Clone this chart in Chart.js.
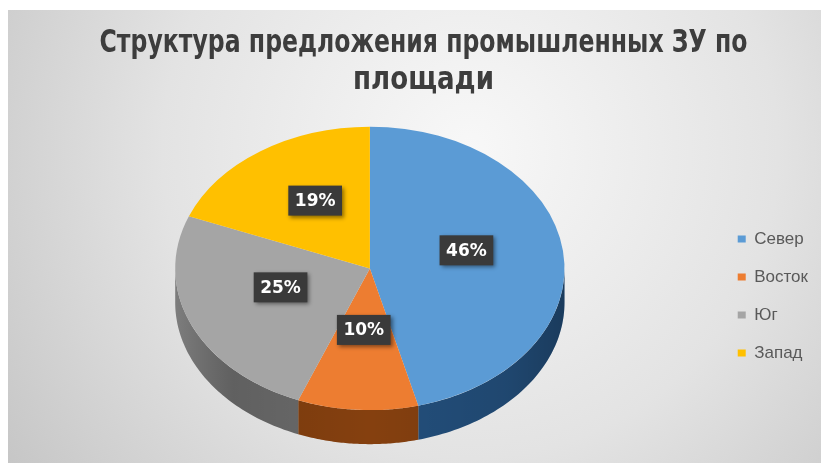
<!DOCTYPE html>
<html>
<head>
<meta charset="utf-8">
<script src="https://cdn.jsdelivr.net/npm/chart.js@4.4.0/dist/chart.umd.min.js"></script>
<style>
  html, body { margin: 0; padding: 0; background: #ffffff; }
  #wrap { width: 821px; height: 463px; }
</style>
</head>
<body>
<div id="wrap"><canvas id="chart" width="821" height="463"></canvas></div>
<script>
// Chart data
const titleLines = ['Структура предложения промышленных ЗУ по', 'площади'];
const regions = ['Север', 'Восток', 'Юг', 'Запад'];
const shares = [46, 10, 25, 19];

// Slice colours: top face and darker side wall
const topColors = ['#5b9bd5', '#ed7d31', '#a5a5a5', '#ffc000'];
const sideColors = ['#234f7c', '#85400f', '#6b6b6b', '#b58a00'];

// 3D projection of the library's circular pie into a tilted disc
const PIE3D = {
  stretch: 1.115,     // horizontal radius relative to the library radius
  tilt: 0.728,        // vertical / horizontal radius of the top face
  depth: 0.195,       // wall height relative to the library radius
  labelRadius: 0.5,
  labelLift: 0.065
};

// Condensed look of the heading
const TITLE_SQUEEZE = 0.815;
const TITLE_SHIFT = 3;

function pieGeometry(chart) {
  const arc = chart.getDatasetMeta(0).data[0];
  const R = arc.outerRadius;
  const rx = R * PIE3D.stretch;
  const ry = rx * PIE3D.tilt;
  const d = R * PIE3D.depth;
  return { ax: arc.x, ay: arc.y, R, rx, ry, d, cx: arc.x, cy: arc.y - d / 2 };
}

const backdrop = {
  id: 'backdrop',
  beforeDraw(chart) {
    const { ctx, width, height } = chart;
    // narrow the title block horizontally
    const tb = chart.titleBlock;
    if (tb && !tb._squeezed) {
      const draw = tb.draw;
      tb.draw = function (area) {
        const c = this.ctx;
        const mid = (this.left + this.right) / 2;
        c.save();
        c.translate(mid + TITLE_SHIFT, 0);
        c.scale(TITLE_SQUEEZE, 1);
        c.translate(-mid, 0);
        draw.call(this, area);
        c.restore();
      };
      tb._squeezed = true;
    }
    ctx.save();
    ctx.fillStyle = '#ffffff';
    ctx.fillRect(0, 0, width, height);
    const g = ctx.createRadialGradient(470, 150, 0, 470, 150, 560);
    g.addColorStop(0, '#f8f8f8');
    g.addColorStop(0.55, '#e3e3e3');
    g.addColorStop(1, '#c6c6c6');
    ctx.fillStyle = g;
    ctx.fillRect(8, 10, width - 8, height - 10);
    ctx.restore();
  }
};

const pie3d = {
  id: 'pie3d',
  beforeDatasetsDraw(chart) {
    const ctx = chart.ctx;
    const g = pieGeometry(chart);
    const meta = chart.getDatasetMeta(0);
    const n = 60;
    const edge = (a, off) => [g.cx + g.rx * Math.cos(a), g.cy + g.ry * Math.sin(a) + off];

    ctx.save();
    // side wall, only the front half of the disc is visible
    meta.data.forEach((el, i) => {
      const a0 = Math.max(el.startAngle, 0);
      const a1 = Math.min(el.endAngle, Math.PI);
      if (a1 <= a0) return;
      ctx.beginPath();
      for (let k = 0; k <= n; k++) {
        const p = edge(a0 + (a1 - a0) * k / n, 0);
        k ? ctx.lineTo(p[0], p[1]) : ctx.moveTo(p[0], p[1]);
      }
      for (let k = n; k >= 0; k--) {
        const p = edge(a0 + (a1 - a0) * k / n, g.d);
        ctx.lineTo(p[0], p[1]);
      }
      ctx.closePath();
      ctx.fillStyle = sideColors[i];
      ctx.fill();
    });
    // shading of the wall toward the left and right rims
    ctx.beginPath();
    for (let k = 0; k <= n; k++) {
      const p = edge(Math.PI * k / n, 0);
      k ? ctx.lineTo(p[0], p[1]) : ctx.moveTo(p[0], p[1]);
    }
    for (let k = n; k >= 0; k--) {
      const p = edge(Math.PI * k / n, g.d);
      ctx.lineTo(p[0], p[1]);
    }
    ctx.closePath();
    const sh = ctx.createLinearGradient(g.cx - g.rx, 0, g.cx + g.rx, 0);
    sh.addColorStop(0, 'rgba(255,255,255,0.12)');
    sh.addColorStop(0.15, 'rgba(0,0,0,0.10)');
    sh.addColorStop(0.5, 'rgba(0,0,0,0)');
    sh.addColorStop(0.85, 'rgba(0,0,0,0.10)');
    sh.addColorStop(1, 'rgba(0,0,0,0.25)');
    ctx.fillStyle = sh;
    ctx.fill();
    ctx.restore();

    // tilt the top face
    ctx.save();
    ctx.translate(g.cx, g.cy);
    ctx.scale(g.rx / g.R, g.ry / g.R);
    ctx.translate(-g.ax, -g.ay);
  },
  afterDatasetsDraw(chart) {
    const ctx = chart.ctx;
    ctx.restore();
    const g = pieGeometry(chart);
    const meta = chart.getDatasetMeta(0);
    const total = shares.reduce((s, v) => s + v, 0);
    ctx.save();
    ctx.font = 'bold 17px "DejaVu Sans", sans-serif';
    ctx.textAlign = 'center';
    ctx.textBaseline = 'middle';
    meta.data.forEach((el, i) => {
      const mid = (el.startAngle + el.endAngle) / 2;
      const x = g.cx + g.rx * PIE3D.labelRadius * Math.cos(mid);
      const y = g.cy + g.ry * PIE3D.labelRadius * Math.sin(mid) - g.ry * PIE3D.labelLift;
      const text = Math.round(shares[i] / total * 100) + '%';
      const w = ctx.measureText(text).width + 13;
      const h = 30;
      ctx.save();
      ctx.shadowColor = 'rgba(0,0,0,0.45)';
      ctx.shadowBlur = 4;
      ctx.shadowOffsetX = 2;
      ctx.shadowOffsetY = 2;
      ctx.fillStyle = '#3a3a3a';
      ctx.fillRect(x - w / 2, y - h / 2, w, h);
      ctx.restore();
      ctx.fillStyle = '#ffffff';
      ctx.fillText(text, x, y + 1);
    });
    ctx.restore();
  }
};

new Chart(document.getElementById('chart'), {
  type: 'pie',
  data: {
    labels: regions,
    datasets: [{
      data: shares,
      backgroundColor: topColors,
      borderWidth: 0,
      hoverOffset: 0,
      clip: false
    }]
  },
  options: {
    responsive: false,
    animation: false,
    events: [],
    layout: { padding: { left: 23, right: 3, top: 7, bottom: 3 } },
    plugins: {
      title: {
        display: true,
        text: titleLines,
        color: '#3d3d3d',
        font: { family: '"DejaVu Sans", sans-serif', size: 32, weight: 'bold', lineHeight: 1.17 },
        padding: { top: 18, bottom: 11 }
      },
      legend: {
        position: 'right',
        align: 'center',
        title: { display: true, text: '', font: { size: 10 }, padding: { top: 113, bottom: 0 } },
        labels: {
          boxWidth: 8,
          boxHeight: 7,
          padding: 21,
          color: '#595959',
          font: { family: '"Liberation Sans", Arial, sans-serif', size: 17 }
        }
      },
      tooltip: { enabled: false }
    }
  },
  plugins: [backdrop, pie3d]
});
</script>
</body>
</html>
